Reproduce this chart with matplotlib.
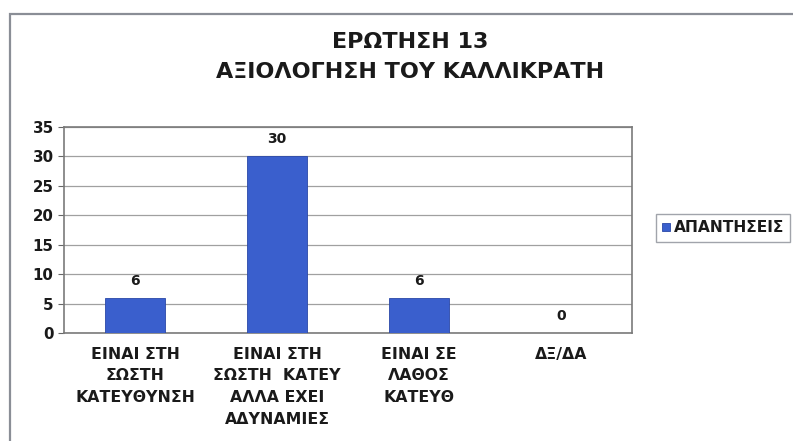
import matplotlib
matplotlib.use("Agg")
import matplotlib.pyplot as plt
from matplotlib.patches import Rectangle

categories = ["ΕΙΝΑΙ ΣΤΗ\nΣΩΣΤΗ\nΚΑΤΕΥΘΥΝΣΗ", "ΕΙΝΑΙ ΣΤΗ\nΣΩΣΤΗ  ΚΑΤΕΥ\nΑΛΛΑ ΕΧΕΙ\nΑΔΥΝΑΜΙΕΣ",
              "ΕΙΝΑΙ ΣΕ\nΛΑΘΟΣ\nΚΑΤΕΥΘ", "ΔΞ/ΔΑ"]
values = [6, 30, 6, 0]
series_name = "ΑΠΑΝΤΗΣΕΙΣ"
yticks = [0, 5, 10, 15, 20, 25, 30, 35]
title_lines = ["ΕΡΩΤΗΣΗ 13", "ΑΞΙΟΛΟΓΗΣΗ ΤΟΥ ΚΑΛΛΙΚΡΑΤΗ"]

plt.rcParams['font.family'] = ['DejaVu Sans']
TXT = '#1a1a1a'

fig = plt.figure(figsize=(7.93, 4.41), dpi=100)
W, H = 793, 441

# outer chart frame
fig.patches.append(Rectangle((9.5 / W, -0.01), 1.0, 1 - 14 / H + 0.01, transform=fig.transFigure,
                             fill=False, edgecolor='#8a8e96', linewidth=1.6))

ax = fig.add_axes([64 / W, 1 - 333 / H, (632 - 64) / W, (333 - 127) / H])
x = range(len(categories))
bars = ax.bar(x, values, width=0.42, color='#3a5fcd', edgecolor='#2a48a8', linewidth=0.6,
              label=series_name, zorder=3)
for xi, v in zip(x, values):
    ax.text(xi, v + 1.7, str(v), ha='center', va='bottom', fontsize=10,
            fontweight='bold', color=TXT)

ax.set_xlim(-0.5, len(categories) - 0.5)
ax.set_ylim(0, 35)
ax.set_yticks(yticks)
ax.set_xticks(list(x))
ax.set_xticklabels(categories, fontsize=11.3, fontweight='bold', color=TXT, linespacing=1.55)
ax.tick_params(axis='y', labelsize=10.8, length=4, colors='#666666', labelcolor=TXT)
for lab in ax.get_yticklabels():
    lab.set_fontweight('bold')
ax.tick_params(axis='x', length=0, pad=10)
ax.grid(axis='y', color='#a0a0a0', linewidth=0.9, zorder=0)
for s in ax.spines.values():
    s.set_color('#7a7a7a')
    s.set_linewidth(1.2)

fig.text(410 / W, 1 - 42 / H, title_lines[0], ha='center', va='center',
         fontsize=16, fontweight='bold', color=TXT)
fig.text(410 / W, 1 - 72 / H, title_lines[1], ha='center',
         va='center', fontsize=16, fontweight='bold', color=TXT)

leg = fig.legend(handles=[bars], labels=[series_name], loc='center left',
                 bbox_to_anchor=(656 / W, 1 - 228 / H), frameon=True, fontsize=11.2,
                 handlelength=0.5, handleheight=0.5, handletextpad=0.25,
                 borderpad=0.4, fancybox=False, borderaxespad=0)
leg.get_frame().set_edgecolor('#8a8e96')
leg.get_frame().set_linewidth(1.0)
for t in leg.get_texts():
    t.set_fontweight('bold')
    t.set_color(TXT)

fig.savefig("out.png", dpi=100)
